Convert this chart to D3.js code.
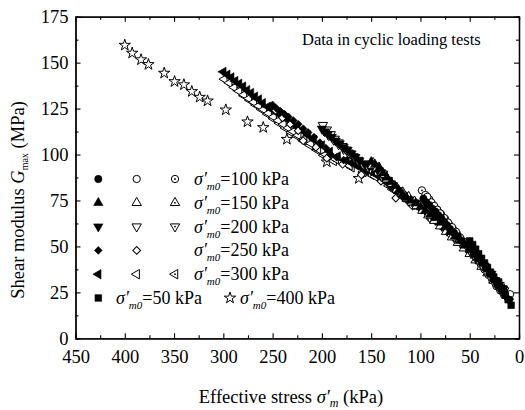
<!DOCTYPE html>
<html>
<head>
<meta charset="utf-8">
<script src="https://cdn.jsdelivr.net/npm/d3@7"></script>
<style>
  body { margin: 0; background: #fff; }
  svg, svg text { font-family: "Liberation Serif", "Times New Roman", serif; }
</style>
</head>
<body>
<div id="chart"></div>
<script>
// axis ticks
const xTicks = [450, 400, 350, 300, 250, 200, 150, 100, 50, 0];
const yTicks = [0, 25, 50, 75, 100, 125, 150, 175];

// [effective stress kPa, Gmax MPa]
const s400Star = [[400,159.5],[392.5,155.2],[383.5,151.6],[376,149],[360,144.3],[349.5,139.7],[340,138],[332,134.3],[324,131.2],[316,129.2],[297.5,124.3],[275.5,117.8],[259.5,114.7],[235.5,108.3],[195,96],[162.5,87]];

const s300Filled = [[300,145],[296,143.5],[292,142],[288,140],[284,138.5],[280,137],[276,135],[272,133.5],[268,131.5],[264,130],[260,128],[255,126],[250,124.5],[245,122.5],[240,121],[235,119],[230,117],[225,115],[220,113],[214,110.5],[208,108],[200,105],[192,101.5],[184,99],[175,97],[165,94],[155,91],[145,89],[135,85],[125,80.5],[115,76],[105,73],[95,70],[85,66],[75,61.5],[65,56],[55,51],[45,45.5],[35,39],[25,32.5],[15,26]];
const s300Open = [[299,141],[294,139],[289,136.5],[284,134.5],[279,132.5],[274,130.5],[269,128.5],[264,126.5],[259,124.5],[254,122.5],[249,120.5],[244,118.5],[239,116.5],[234,114.5],[229,112.5],[224,110.5],[218,108.5],[211,106],[204,103],[196,100],[186,97.5],[172,94],[158,90.5],[146,88],[132,83],[118,77],[104,72],[90,67],[76,61],[62,54],[48,47],[34,38.5],[20,29]];
const s300Dot = [[297,140.5],[291,138],[285,135],[279,132],[273,129.5],[267,127],[261,124.5],[255,122],[249,119.5],[243,117],[237,114.5],[231,112],[225,110],[219,107.5],[212,105],[205,102.5],[198,99.5],[188,96.5],[170,93],[150,89],[128,81],[108,73],[88,65.5],[68,56.5],[50,48],[32,37],[18,28]];

const s250Filled = [[250,127],[246,125],[242,123.5],[238,122],[234,120.5],[229,118.5],[224,116.5],[219,114],[214,112],[208,109.5],[202,106.5],[196,103.5],[191,100],[185,98.5],[178,97],[170,95.5],[160,93],[150,91],[140,87.5],[130,82.5],[120,78.5],[110,75],[100,71.5],[90,68],[80,63.5],[70,58],[60,53],[50,48.5],[40,42],[30,36],[20,29.5],[12,23.5]];
const s250Open = [[247,124],[240,120],[232,116.5],[224,113],[219,107.5],[206,104],[195,98],[179,94.7],[160,89],[140,85.5],[125,76.3],[108,72],[90,65],[72,58],[55,50],[38,40],[22,30]];

const s200Filled = [[200,114],[197,112.5],[194,111],[190,109.5],[186,107.5],[182,106],[178,104],[174,102.5],[170,100.5],[166,98.5],[162,96.5],[157,95],[152,93.5],[147,92.5],[142,90.5],[137,87.5],[132,84.5],[127,82],[122,79.5],[117,77],[112,75],[106,73],[100,71],[94,69],[88,67],[82,64.5],[76,61.5],[70,58.5],[64,55.5],[58,52.5],[52,49.5],[46,46],[40,42.5],[34,39],[28,35],[22,31],[16,27],[11,23]];
const s200Open = [[199,116],[195,113.5],[191,111],[187,108.5],[183,106.5],[179,104.5],[175,102.5],[171,100.5],[167,98.5],[163,96.5],[158,94.5],[153,93],[148,93.5],[143,91.5],[138,89.5],[133,86],[128,83],[123,80.5],[118,78],[112,75.5],[106,73.5],[99,70.5],[92,67.5],[85,64.5],[78,61],[71,57.5],[64,54],[57,51],[50,47.5],[43,43.5],[36,39.5],[29,35],[22,30.5],[15,26]];
const s200Dot = [[198,113],[193,110.5],[188,108],[183,105.5],[178,103],[173,101],[168,99],[163,97],[157,95],[151,92.5],[145,91],[139,88],[133,85],[127,81.5],[121,79],[115,76.5],[108,74],[101,71.5],[94,68.5],[87,65.5],[80,62],[73,58.5],[66,55],[59,51.5],[52,48.5],[45,44.5],[38,40.5],[31,36],[24,31.5],[17,27]];

const s150Filled = [[150,96],[146,94.5],[142,92.5],[138,90],[134,87.5],[130,85],[126,83],[122,80.5],[118,78.5],[114,76.5],[110,75],[105,73.5],[100,71.5],[95,69.5],[90,67.5],[85,65.5],[80,63],[75,60.5],[70,58],[65,55.5],[60,53],[55,50.5],[50,48],[45,45],[40,42],[35,39.5],[30,36],[25,33],[20,29.5],[15,26.5],[10,22.5]];
const s150Open = [[149,94],[144,92.5],[139,90],[134,86.5],[129,84],[124,81],[119,78.5],[114,76],[109,74],[104,72],[98,69.5],[92,67],[86,64],[80,61],[74,58],[68,55],[62,52],[56,49],[50,46],[44,42.5],[38,39],[32,35.5],[26,31.5],[20,28],[14,24.5]];
const s150Dot = [[148,95.5],[142,93],[136,89],[130,84.5],[124,82],[118,79.5],[112,77],[106,74.5],[100,72.5],[94,70],[88,67.5],[82,64.5],[76,62],[70,59],[64,56],[58,52.5],[52,49.5],[46,46],[40,42.5],[34,38.5],[28,34.5],[22,30],[16,26]];

const s100Filled = [[97,76],[94,74],[91,72.5],[88,70.5],[85,69],[82,67],[79,65.5],[76,63.5],[73,61.5],[70,59.5],[66,57.5],[62,55.5],[58,53],[54,51],[50,48.5],[46,46],[42,43.5],[38,41],[34,38],[30,35],[26,32],[22,29],[18,26.5],[14,23.5],[10,21]];
const s100Open = [[93,77],[89,74],[86,72],[83,70],[80,68],[76,65.5],[72,63],[68,60.5],[64,58],[60,55],[56,52.5],[52,50],[48,47],[44,44.5],[40,42],[36,39],[32,36],[28,33],[24,30],[20,27.5],[16,25],[12,23],[9,24]];
const s100Dot = [[98.5,80.5],[95,78],[91,75.5],[87,72.5],[83,70],[79,67.5],[75,65],[71,62],[67,59.5],[63,57],[59,54],[55,51.5],[51,49],[47,46],[43,43.5],[39,40.5],[35,37.5],[31,34.5],[27,31.5],[23,28.5],[19,26],[15,23.5],[11,21.5]];

const s50Filled = [[50,53],[47,51],[44,48.5],[41,46],[38,43.5],[35,41],[32,38.5],[29,36],[26,33.5],[23,31],[20,28.5],[17,26],[14,23.5],[11,21],[8,18]];

// legend rows: consolidation stress and marker shape of each row
const legendStress = ["100", "150", "200", "250", "300"];
const legendShapes = ["circle", "triUp", "triDown", "diamond", "triLeft"];

const serif = '"Liberation Serif", "Times New Roman", serif';

// set the dimensions of the graph
const width = 525, height = 410;
const margin = { top: 16.7, right: 6, bottom: 71.7, left: 75.5 };

const svg = d3.select("#chart")
  .append("svg")
  .attr("width", width)
  .attr("height", height)
  .style("font-family", serif);

const x = d3.scaleLinear().domain([450, 0]).range([margin.left, width - margin.right]);
const y = d3.scaleLinear().domain([0, 175]).range([height - margin.bottom, margin.top]);

// marker shapes
const shapeDefs = {
  circle:  { type: d3.symbolCircle,   size: 42, rot: 0 },
  triUp:   { type: d3.symbolTriangle, size: 38, rot: 0 },
  triDown: { type: d3.symbolTriangle, size: 38, rot: 180 },
  triLeft: { type: d3.symbolTriangle, size: 38, rot: -90 },
  diamond: { type: d3.symbolSquare,   size: 30, rot: 45 },
  square:  { type: d3.symbolSquare,   size: 44, rot: 0 },
  star:    { type: d3.symbolStar,     size: 40, rot: 0 }
};

function drawMarker(g, px, py, shape, style) {
  const def = shapeDefs[shape];
  g.append("path")
    .attr("d", d3.symbol().type(def.type).size(def.size)())
    .attr("transform", `translate(${px},${py}) rotate(${def.rot})`)
    .attr("fill", style === "filled" ? "#000" : "#fff")
    .attr("stroke", "#000")
    .attr("stroke-width", style === "filled" ? 0.6 : 1);
  if (style === "dot") {
    g.append("circle").attr("cx", px).attr("cy", py).attr("r", 0.9).attr("fill", "#000");
  }
}

function drawSeries(data, shape, style) {
  const g = svg.append("g");
  data.forEach(d => drawMarker(g, x(d[0]), y(d[1]), shape, style));
}

// draw order: stars first, then the bands
drawSeries(s400Star, "star", "open");
drawSeries(s300Dot, "triLeft", "dot");
drawSeries(s300Open, "triLeft", "open");
drawSeries(s300Filled, "triLeft", "filled");
drawSeries(s250Open, "diamond", "open");
drawSeries(s250Filled, "diamond", "filled");
drawSeries(s200Dot, "triDown", "dot");
drawSeries(s200Open, "triDown", "open");
drawSeries(s200Filled, "triDown", "filled");
drawSeries(s150Dot, "triUp", "dot");
drawSeries(s150Open, "triUp", "open");
drawSeries(s150Filled, "triUp", "filled");
drawSeries(s100Dot, "circle", "dot");
drawSeries(s100Open, "circle", "open");
drawSeries(s100Filled, "circle", "filled");
drawSeries(s50Filled, "square", "filled");

// axes: majors with labels, minors without, mirrored on top and right
const xMinor = d3.range(25, 450, 50);
const yMinor = d3.range(12.5, 175, 25);
const x0 = height - margin.bottom, y0 = margin.left;

function styleAxis(g) {
  g.attr("font-family", null).attr("font-size", null);
  g.selectAll(".domain").attr("stroke-width", 1.3);
  g.selectAll(".tick line").attr("stroke-width", 1.1);
  g.selectAll("text").style("font-size", "18.5px").style("font-family", serif).attr("fill", "#000");
}

svg.append("g").attr("transform", `translate(0,${x0})`)
  .call(d3.axisBottom(x).tickValues(xTicks).tickSizeInner(-5).tickSizeOuter(0).tickPadding(12))
  .call(styleAxis);
svg.append("g").attr("transform", `translate(0,${x0})`)
  .call(d3.axisBottom(x).tickValues(xMinor).tickSize(-3).tickFormat(""))
  .call(styleAxis);
svg.append("g").attr("transform", `translate(0,${margin.top})`)
  .call(d3.axisTop(x).tickValues(xTicks).tickSizeInner(-5).tickSizeOuter(0).tickFormat(""))
  .call(styleAxis);
svg.append("g").attr("transform", `translate(0,${margin.top})`)
  .call(d3.axisTop(x).tickValues(xMinor).tickSize(-3).tickFormat(""))
  .call(styleAxis);

svg.append("g").attr("transform", `translate(${y0},0)`)
  .call(d3.axisLeft(y).tickValues(yTicks).tickSizeInner(-5).tickSizeOuter(0).tickPadding(7))
  .call(styleAxis);
svg.append("g").attr("transform", `translate(${y0},0)`)
  .call(d3.axisLeft(y).tickValues(yMinor).tickSize(-3).tickFormat(""))
  .call(styleAxis);
svg.append("g").attr("transform", `translate(${width - margin.right},0)`)
  .call(d3.axisRight(y).tickValues(yTicks).tickSizeInner(-5).tickSizeOuter(0).tickFormat(""))
  .call(styleAxis);
svg.append("g").attr("transform", `translate(${width - margin.right},0)`)
  .call(d3.axisRight(y).tickValues(yMinor).tickSize(-3).tickFormat(""))
  .call(styleAxis);

// axis titles
const xTitle = svg.append("text")
  .attr("x", 291).attr("y", 403)
  .attr("text-anchor", "middle")
  .attr("font-size", 18.5);
xTitle.append("tspan").text("Effective stress ");
xTitle.append("tspan").attr("font-style", "italic").text("σ′");
xTitle.append("tspan").attr("font-style", "italic").attr("font-size", 12).attr("dy", 4).text("m");
xTitle.append("tspan").attr("dy", -4).text(" (kPa)");

const yTitle = svg.append("text")
  .attr("transform", "translate(24,200) rotate(-90)")
  .attr("text-anchor", "middle")
  .attr("font-size", 18.5);
yTitle.append("tspan").text("Shear modulus ");
yTitle.append("tspan").attr("font-style", "italic").text("G");
yTitle.append("tspan").attr("font-size", 10).attr("dy", 4).text("max");
yTitle.append("tspan").attr("dy", -4).text(" (MPa)");

svg.append("text")
  .attr("x", 302).attr("y", 45)
  .attr("font-size", 16.5)
  .text("Data in cyclic loading tests");

// legend
const legend = svg.append("g");
const rowY = d3.scaleLinear().domain([0, 5]).range([179, 298]);

function sigmaLabel(g, tx, ty, value) {
  const t = g.append("text").attr("x", tx).attr("y", ty + 6).attr("font-size", 18);
  t.append("tspan").attr("font-style", "italic").text("σ′");
  t.append("tspan").attr("font-style", "italic").attr("font-size", 11).attr("dy", 5).text("m0");
  t.append("tspan").attr("dy", -5).text(`=${value} kPa`);
}

legendStress.forEach((v, i) => {
  const ry = rowY(i);
  drawMarker(legend, 98.3, ry, legendShapes[i], "filled");
  drawMarker(legend, 136.7, ry, legendShapes[i], "open");
  if (legendShapes[i] !== "diamond") drawMarker(legend, 175, ry, legendShapes[i], "dot");
  sigmaLabel(legend, 194, ry, v);
});
drawMarker(legend, 98.3, rowY(5), "square", "filled");
sigmaLabel(legend, 116, rowY(5), "50");
drawMarker(legend, 230, rowY(5), "star", "open");
sigmaLabel(legend, 240, rowY(5), "400");
</script>
</body>
</html>
